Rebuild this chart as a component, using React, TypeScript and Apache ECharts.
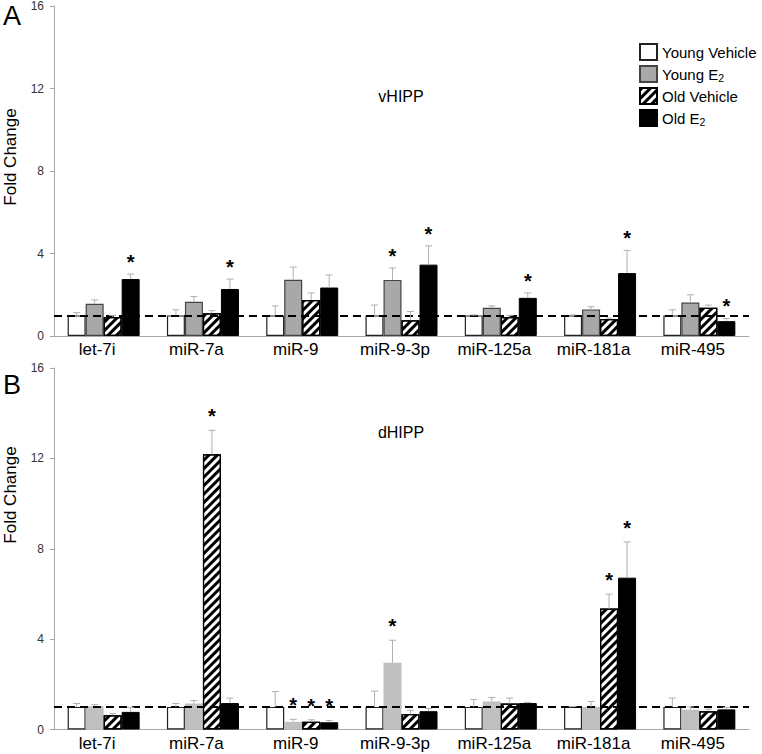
import React, { useEffect, useRef } from "react";
import * as echarts from "echarts";

const categories = ["let-7i", "miR-7a", "miR-9", "miR-9-3p", "miR-125a", "miR-181a", "miR-495"];
const seriesNames = ["Young Vehicle", "Young E2", "Old Vehicle", "Old E2"];
const yTicks = [0, 4, 8, 12, 16];

// Panel A (vHIPP)
const youngVehA = [1.0, 1.0, 1.0, 1.0, 1.0, 1.0, 1.0];
const youngVehAErr = [0.13, 0.27, 0.46, 0.5, 0.02, 0.02, 0.27];
const youngE2A = [1.56, 1.66, 2.73, 2.72, 1.37, 1.29, 1.62];
const youngE2AErr = [0.19, 0.25, 0.61, 0.58, 0.09, 0.13, 0.38];
const oldVehA = [0.92, 1.1, 1.74, 0.76, 0.92, 0.82, 1.37];
const oldVehAErr = [0.08, 0.13, 0.35, 0.43, 0.08, 0.05, 0.13];
const oldE2A = [2.76, 2.28, 2.35, 3.46, 1.85, 3.05, 0.72];
const oldE2AErr = [0.24, 0.48, 0.61, 0.91, 0.24, 1.1, 0.13];
const starsA = [
  [0, 0, 0, 0, 0, 0, 0],
  [0, 0, 0, 1, 0, 0, 0],
  [0, 0, 0, 0, 0, 0, 0],
  [1, 1, 0, 1, 1, 1, 1],
];

// Panel B (dHIPP)
const youngVehB = [1.0, 1.0, 1.0, 1.0, 1.0, 1.0, 1.0];
const youngVehBErr = [0.15, 0.15, 0.68, 0.7, 0.33, 0.02, 0.39];
const youngE2B = [1.03, 1.15, 0.34, 2.95, 1.24, 1.0, 0.88];
const youngE2BErr = [0.07, 0.13, 0.11, 1.0, 0.18, 0.24, 0.12];
const oldVehB = [0.63, 12.18, 0.34, 0.68, 1.15, 5.35, 0.81];
const oldVehBErr = [0.07, 1.06, 0.09, 0.17, 0.24, 0.64, 0.09];
const oldE2B = [0.78, 1.17, 0.32, 0.81, 1.17, 6.72, 0.89];
const oldE2BErr = [0.2, 0.22, 0.08, 0.12, 0.03, 1.58, 0.09];
const starsB = [
  [0, 0, 0, 0, 0, 0, 0],
  [0, 0, 1, 1, 0, 0, 0],
  [0, 1, 1, 0, 0, 1, 0],
  [0, 0, 1, 0, 0, 1, 0],
];

const FONT = "'Liberation Sans', Arial, Helvetica, sans-serif";
const BAR_W = 18;

const hatchDecal = {
  symbol: "rect",
  symbolSize: 1,
  dashArrayX: [1, 0],
  dashArrayY: [3, 3],
  rotation: -Math.PI / 4,
  color: "#000",
};

function barStyles(panel: number) {
  return [
    { color: "#ffffff", borderColor: "#222", borderWidth: 1.2 },
    panel === 0
      ? { color: "#a8a8a8", borderColor: "#444", borderWidth: 1.2 }
      : { color: "#c0c0c0", borderWidth: 0 },
    { color: "#ffffff", borderColor: "#000", borderWidth: 1.2, decal: hatchDecal },
    { color: "#000000", borderColor: "#000", borderWidth: 1 },
  ];
}

export default function App() {
  const ref = useRef<HTMLDivElement>(null);
  useEffect(() => {
    document.body.style.margin = "0";
    const chart = echarts.init(ref.current!, undefined, { renderer: "svg" });
    const panels = [
      { vals: [youngVehA, youngE2A, oldVehA, oldE2A], errs: [youngVehAErr, youngE2AErr, oldVehAErr, oldE2AErr], stars: starsA },
      { vals: [youngVehB, youngE2B, oldVehB, oldE2B], errs: [youngVehBErr, youngE2BErr, oldVehBErr, oldE2BErr], stars: starsB },
    ];
    const series: any[] = [];
    panels.forEach((p, pi) => {
      const styles = barStyles(pi);
      p.vals.forEach((v, si) => {
        series.push({
          type: "bar",
          name: seriesNames[si],
          xAxisIndex: pi,
          yAxisIndex: pi,
          data: v,
          barWidth: BAR_W,
          barGap: "0%",
          itemStyle: styles[si],
          z: 2,
        });
      });
    });
    panels.forEach((p, pi) => {
      p.vals.forEach((v, si) => {
        const offset = (si - 1.5) * BAR_W;
        series.push({
          type: "custom",
          name: "err" + pi + si,
          xAxisIndex: pi,
          yAxisIndex: pi,
          z: 5,
          silent: true,
          data: v.map((val, ci) => [ci, val, p.errs[si][ci], p.stars[si][ci]]),
          encode: { x: 0, y: 1 },
          renderItem: (params: any, api: any) => {
            const ci = api.value(0);
            const val = api.value(1);
            const e = api.value(2);
            const star = api.value(3);
            const base = api.coord([ci, val]);
            const top = api.coord([ci, val + e]);
            const x = base[0] + offset;
            const children: any[] = [
              { type: "line", shape: { x1: x, y1: base[1], x2: x, y2: top[1] }, style: { stroke: "#b0b0b0", lineWidth: 1 } },
              { type: "line", shape: { x1: x - 3.5, y1: top[1], x2: x + 3.5, y2: top[1] }, style: { stroke: "#b0b0b0", lineWidth: 1 } },
            ];
            if (star) {
              children.push({
                type: "text",
                x: x,
                y: top[1] - (pi === 1 ? 4 : 2),
                style: { text: "*", fontSize: 20, fontFamily: FONT, fontWeight: "bold", fill: "#000", align: "center", verticalAlign: "bottom" },
              });
            }
            return { type: "group", children };
          },
          markLine:
            si === 3
              ? {
                  silent: true,
                  symbol: ["none", "none"],
                  label: { show: false },
                  lineStyle: { type: [8, 5], color: "#000", width: 2 },
                  data: [{ yAxis: 1 }],
                }
              : undefined,
        });
      });
    });

    const grids = [
      { left: 54, right: 13, top: 4, bottom: 418 },
      { left: 54, right: 13, top: 368, bottom: 24.5 },
    ];
    const option: any = {
      animation: false,
      textStyle: { fontFamily: FONT },
      grid: grids,
      xAxis: grids.map((_, i) => ({
        type: "category",
        gridIndex: i,
        data: categories,
        axisLine: { lineStyle: { color: "#a8a8a8", width: 1 } },
        axisTick: { show: false },
        axisLabel: { fontSize: 17, color: "#000", margin: 5, fontFamily: FONT, interval: 0, padding: [0, 13, 0, 0] },
      })),
      yAxis: grids.map((_, i) => ({
        type: "value",
        gridIndex: i,
        min: yTicks[0],
        max: yTicks[yTicks.length - 1],
        interval: 4,
        axisLine: { show: true, lineStyle: { color: "#a8a8a8", width: 1 } },
        axisTick: { show: true, length: 4, lineStyle: { color: "#a8a8a8" } },
        splitLine: { show: false },
        axisLabel: { fontSize: 12, color: "#333", margin: 10, fontFamily: FONT },
      })),
      legend: {
        data: seriesNames,
        orient: "vertical",
        left: 634,
        top: 38,
        itemWidth: 17,
        itemHeight: 16,
        itemGap: 4,
        icon: "rect",
        selectedMode: false,
        formatter: (name: string) =>
          name.endsWith("E2") ? "{n|" + name.slice(0, -1) + "}{sub|2}" : "{n|" + name + "}",
        textStyle: {
          fontSize: 15,
          color: "#000",
          fontFamily: FONT,
          rich: {
            n: { fontSize: 15, lineHeight: 18, verticalAlign: "middle", fontFamily: FONT, color: "#000" },
            sub: { fontSize: 10.5, lineHeight: 10, verticalAlign: "bottom", fontFamily: FONT, color: "#000" },
          },
        },
      },
      graphic: [
        { type: "text", left: 3, top: 2, style: { text: "A", fontSize: 27, fontFamily: FONT, fill: "#000" } },
        { type: "text", left: 3, top: 371, style: { text: "B", fontSize: 27, fontFamily: FONT, fill: "#000" } },
        { type: "text", x: 401, y: 96, style: { text: "vHIPP", fontSize: 16, fontFamily: FONT, fill: "#000", align: "center", verticalAlign: "middle" } },
        { type: "text", x: 401, y: 432, style: { text: "dHIPP", fontSize: 16, fontFamily: FONT, fill: "#000", align: "center", verticalAlign: "middle" } },
        { type: "text", x: 10, y: 157, rotation: Math.PI / 2, style: { text: "Fold Change", fontSize: 17, fontFamily: FONT, fill: "#000", align: "center", verticalAlign: "middle" } },
        { type: "text", x: 10, y: 495, rotation: Math.PI / 2, style: { text: "Fold Change", fontSize: 17, fontFamily: FONT, fill: "#000", align: "center", verticalAlign: "middle" } },
      ],
      series,
    };
    chart.setOption(option);
    return () => chart.dispose();
  }, []);
  return <div ref={ref} style={{ position: "absolute", left: 0, top: 0, width: 762, height: 754 }} />;
}
